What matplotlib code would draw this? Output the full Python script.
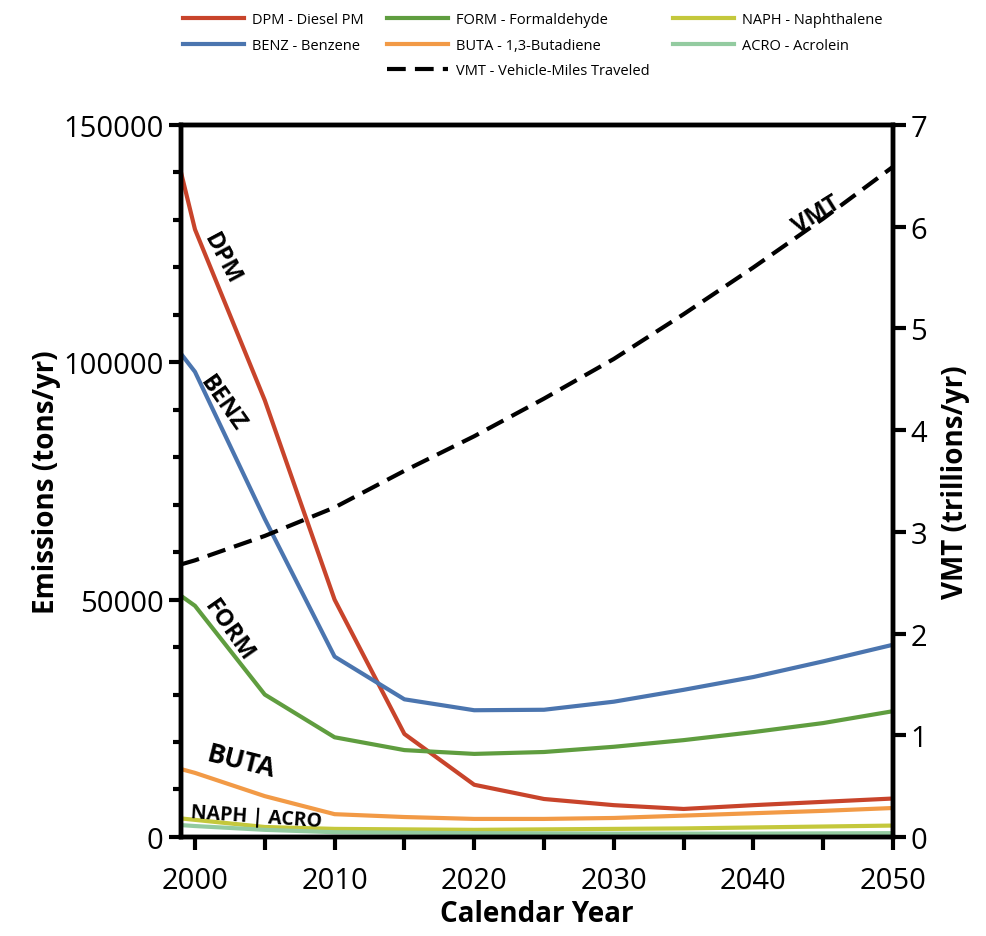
import matplotlib
matplotlib.use("Agg")
import matplotlib.pyplot as plt
from matplotlib.lines import Line2D
from matplotlib.ticker import MultipleLocator

plt.rcParams['font.family'] = ['Open Sans', 'DejaVu Sans']

years = [1999, 2000, 2005, 2010, 2015, 2020, 2025, 2030, 2035, 2040, 2045, 2050]
dpm = [140000, 128000, 92000, 50000, 21700, 11000, 8000, 6700, 5900, 6700, 7400, 8100]
benz = [101800, 98000, 67000, 38000, 29000, 26700, 26800, 28500, 31000, 33700, 37000, 40500]
form = [50800, 48700, 30000, 21000, 18300, 17500, 17900, 19000, 20400, 22100, 24000, 26500]
buta = [14300, 13500, 8600, 4800, 4200, 3800, 3800, 4000, 4500, 5000, 5500, 6100]
naph = [3900, 3600, 2100, 1700, 1600, 1500, 1600, 1700, 1800, 2000, 2200, 2400]
acro = [2500, 2300, 1500, 1000, 900, 800, 750, 700, 700, 700, 750, 800]
vmt = [2.68, 2.72, 2.96, 3.24, 3.60, 3.94, 4.31, 4.70, 5.14, 5.60, 6.08, 6.59]

labels = ["DPM - Diesel PM", "BENZ - Benzene", "FORM - Formaldehyde",
          "BUTA - 1,3-Butadiene", "NAPH - Naphthalene", "ACRO - Acrolein",
          "VMT - Vehicle-Miles Traveled"]
colors = {"DPM": "#C8442B", "BENZ": "#4B75AF", "FORM": "#5F9D3F",
          "BUTA": "#F29A46", "NAPH": "#C4C83C", "ACRO": "#93CBA0"}

fig = plt.figure(figsize=(9.86, 9.37), dpi=100)
ax = fig.add_axes([0.1836, 0.1057, 0.7221, 0.7598])
ax2 = ax.twinx()

lw = 3.0
l_dpm, = ax.plot(years, dpm, color=colors["DPM"], lw=lw)
l_benz, = ax.plot(years, benz, color=colors["BENZ"], lw=lw)
l_form, = ax.plot(years, form, color=colors["FORM"], lw=lw)
l_buta, = ax.plot(years, buta, color=colors["BUTA"], lw=lw)
l_naph, = ax.plot(years, naph, color=colors["NAPH"], lw=lw)
l_acro, = ax.plot(years, acro, color=colors["ACRO"], lw=lw)
l_vmt, = ax2.plot(years, vmt, color="black", lw=3, ls=(0, (4.5, 2.2)))

ax.set_xlim(1999, 2050)
ax.set_ylim(0, 150000)
ax2.set_ylim(0, 7)

ax.xaxis.set_major_locator(MultipleLocator(10))
ax.xaxis.set_minor_locator(MultipleLocator(5))
ax.yaxis.set_major_locator(MultipleLocator(50000))
ax.yaxis.set_minor_locator(MultipleLocator(10000))
ax2.yaxis.set_major_locator(MultipleLocator(1))

for a in (ax, ax2):
    for s in a.spines.values():
        s.set_linewidth(3.2)
ax.tick_params(axis='both', which='both', direction='out', width=3, labelsize=21)
ax.tick_params(axis='both', which='major', length=9)
ax.tick_params(axis='both', which='minor', length=6)
ax.tick_params(axis='x', which='minor', length=9)
ax.tick_params(axis='x', which='major', pad=12)
ax2.tick_params(axis='y', which='major', direction='out', width=3, length=9, labelsize=21)

ax.set_xlabel("Calendar Year", fontsize=20, fontweight='bold', labelpad=3)
ax.set_ylabel("Emissions (tons/yr)", fontsize=20, fontweight='bold', labelpad=2)
ax2.set_ylabel("VMT (trillions/yr)", fontsize=20, fontweight='bold', labelpad=10)

tk = dict(fontsize=17, fontweight='bold', color='black', ha='center', va='center')
ax.text(2001.9, 122000, "DPM", rotation=-62, **tk)
ax.text(2002.0, 91500, "BENZ", rotation=-55, **tk)
ax.text(2002.4, 43500, "FORM", rotation=-55, **tk)
ax.text(2003.3, 16000, "BUTA", rotation=-14, fontsize=19, fontweight='bold', ha='center', va='center')
ax.text(2004.4, 4300, "NAPH | ACRO", rotation=-4, fontsize=14, fontweight='bold', ha='center', va='center')
ax2.text(2044.5, 6.12, "VMT", rotation=32, **tk)

blank = Line2D([], [], alpha=0)
handles = [l_dpm, l_benz, blank, l_form, l_buta, l_vmt, l_naph, l_acro, blank]
leg_labels = [labels[0], labels[1], "", labels[2], labels[3], labels[6], labels[4], labels[5], ""]
fig.legend(handles, leg_labels, ncol=3, loc='upper left', bbox_to_anchor=(0.172, 1.0),
           frameon=False, fontsize=10.5, handlelength=4.2, columnspacing=1.6,
           labelspacing=0.72, handletextpad=0.55)

fig.savefig("out.png", dpi=100)
